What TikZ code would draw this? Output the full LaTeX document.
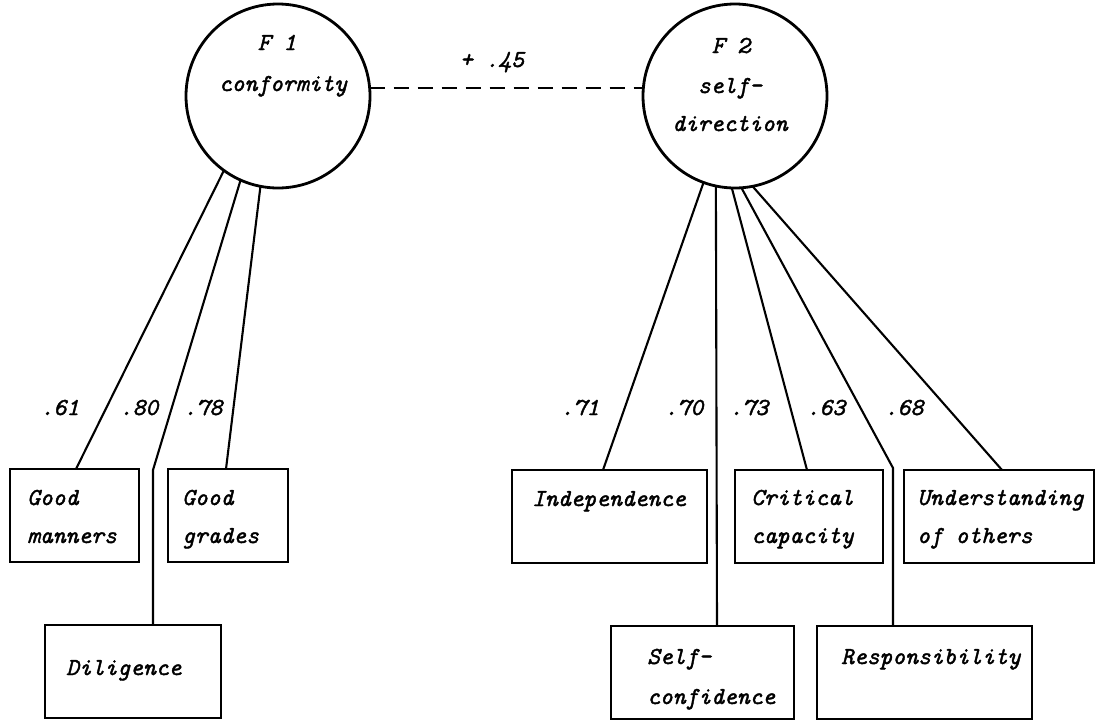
\documentclass[tikz,border=0pt]{standalone}
\usepackage{fontspec}
\newfontfamily\twfont{lmmono10-italic.otf}[FakeBold=1.6]
\begin{document}
\begin{tikzpicture}[x=1pt,y=-1pt,
  txt/.style={font=\fontsize{24.4}{28}\selectfont\twfont, inner sep=0pt, anchor=base west},
  ctxt/.style={txt, anchor=base},
  factor/.style={draw, circle, line width=2.8pt, minimum size=184pt, inner sep=0pt, outer sep=0pt},
  box/.style={draw, line width=2.3pt, rectangle, inner sep=0pt, outer sep=0pt, anchor=north west, minimum height=93pt},
  load/.style={line width=2.1pt},
  corr/.style={line width=1.8pt, dash pattern=on 15pt off 9pt},
]
\useasboundingbox (0,0) rectangle (1097,721);
% factors
\node[factor] (F1) at (278,96) {};
\node[factor] (F2) at (735,96) {};
\node[ctxt] (t1a) at (277,50) {F 1};
\node[ctxt] (t1b) at (283,91) {conformity};
\node[ctxt] (t2a) at (731,53) {F 2};
\node[ctxt] (t2b) at (730,93) {self-};
\node[ctxt] (t2c) at (730,131) {direction};
% correlation
\draw[corr] (F1.5) -- (F2.175);
\node[ctxt] (r) at (492,67) {+ .45};
% boxes
\node[box, minimum width=129pt] (gm) at (10,469) {};
\node[box, minimum width=120pt] (gg) at (168,469) {};
\node[box, minimum width=176pt] (dil) at (45,625) {};
\node[box, minimum width=195pt] (ind) at (512,470) {};
\node[box, minimum width=148pt] (crit) at (735,470) {};
\node[box, minimum width=190pt] (und) at (904,470) {};
\node[box, minimum width=183pt] (sc) at (611,626) {};
\node[box, minimum width=215pt] (resp) at (817,626) {};
% box texts
\node[txt] (gm1) at (27,505) {Good};
\node[txt] (gm2) at (27,543) {manners};
\node[txt] (gg1) at (182,505) {Good};
\node[txt] (gg2) at (182,543) {grades};
\node[txt] (dil1) at (66,675) {Diligence};
\node[txt] (ind1) at (532,506) {Independence};
\node[txt] (crit1) at (751,505) {Critical};
\node[txt] (crit2) at (751,543) {capacity};
\node[txt] (und1) at (917,505) {Understanding};
\node[txt] (und2) at (917,543) {of others};
\node[txt] (sc1) at (647,664) {Self-};
\node[txt] (sc2) at (647,704) {confidence};
\node[txt] (resp1) at (841,664) {Responsibility};
% bends
\coordinate (bd) at (153,470);
\coordinate (br) at (893,468);
% loadings
\draw[load] (F1.234.5) -- ([xshift=66pt]gm.north west);
\draw[load] (F1.246) -- (bd) -- ([xshift=108pt]dil.north west);
\draw[load] (F1.259) -- ([xshift=58pt]gg.north west);
\draw[load] (F2.250) -- ([xshift=91pt]ind.north west);
\draw[load] (F2.258.7) -- ([xshift=106pt]sc.north west);
\draw[load] (F2.268) -- ([xshift=72pt]crit.north west);
\draw[load] (F2.274.4) -- (br) -- ([xshift=76pt]resp.north west);
\draw[load] (F2.281.3) -- ([xshift=98pt]und.north west);
% loading labels
\node[ctxt] (l1) at (60,415) {.61};
\node[ctxt] (l2) at (139,415) {.80};
\node[ctxt] (l3) at (203,415) {.78};
\node[ctxt] (l4) at (580,415) {.71};
\node[ctxt] (l5) at (684,415) {.70};
\node[ctxt] (l6) at (749,415) {.73};
\node[ctxt] (l7) at (826,415) {.63};
\node[ctxt] (l8) at (904,415) {.68};
\end{tikzpicture}
\end{document}
